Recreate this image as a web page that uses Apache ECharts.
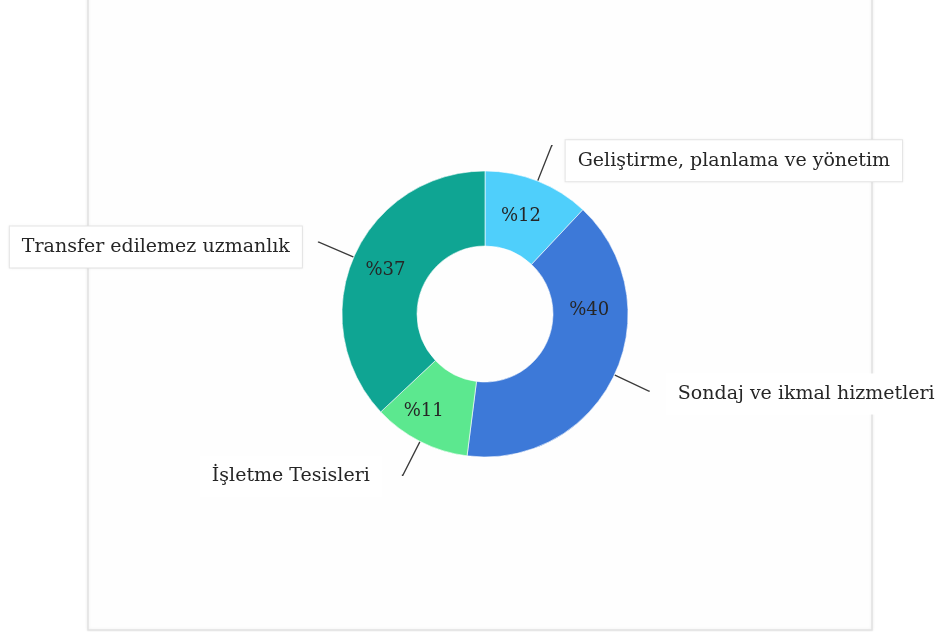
<!DOCTYPE html>
<html>
<head>
<meta charset="utf-8">
<script src="https://cdn.jsdelivr.net/npm/echarts@6/dist/echarts.min.js"></script>
<style>
  html, body { margin: 0; padding: 0; background: #ffffff; }
  #chart { width: 947px; height: 632px; }
</style>
</head>
<body>
<div id="chart"></div>
<script>
// Segment names, shares (%) and colours, clockwise from 12 o'clock
const categories = [
  'Geliştirme, planlama ve yönetim',
  'Sondaj ve ikmal hizmetleri',
  'İşletme Tesisleri',
  'Transfer edilemez uzmanlık'
];
const shares = [12, 40, 11, 37];
const colors = ['#4fcffb', '#3d79d8', '#5ce88f', '#0fa593'];
// Segments whose outer label sits in a bordered box
const boxedLabels = [true, false, false, true];

const serif = "'DejaVu Serif', 'Liberation Serif', serif";
const textColor = '#262626';

const chart = echarts.init(document.getElementById('chart'), null, { renderer: 'canvas' });

const outerData = categories.map((name, i) => ({
  name,
  value: shares[i],
  itemStyle: { color: colors[i] },
  label: boxedLabels[i]
    ? { borderColor: '#e6e6e6', borderWidth: 1, shadowColor: 'rgba(0,0,0,0.05)', shadowBlur: 3 }
    : {}
}));

const innerData = categories.map((name, i) => ({
  name,
  value: shares[i],
  itemStyle: { color: colors[i] }
}));

// small nudges of the label boxes relative to their leader lines
const outerNudge = [{ dx: 3, dy: 15 }, { dx: 6, dy: 3 }, { dx: -10, dy: 1 }, { dx: -6, dy: 5 }];
const innerNudge = [{ dx: -4, dy: 3 }, { dx: 6, dy: -50 }, { dx: -12, dy: 1 }, { dy: -1 }];

chart.setOption({
  backgroundColor: '#ffffff',
  animation: false,
  graphic: [{
    type: 'rect',
    shape: { x: 88, y: -4, width: 784, height: 634 },
    style: { fill: '#fefefe', stroke: '#e2e2e2', lineWidth: 1.5, shadowColor: 'rgba(0,0,0,0.08)', shadowBlur: 3 },
    z: -10,
    silent: true
  }],
  series: [
    {
      // ring with outside category labels
      type: 'pie',
      center: [485, 314],
      radius: [68, 143],
      startAngle: 90,
      clockwise: true,
      avoidLabelOverlap: false,
      itemStyle: { borderColor: 'rgba(255,255,255,0.6)', borderWidth: 1 },
      label: {
        show: true,
        position: 'outside',
        formatter: '{b}',
        fontFamily: serif,
        fontSize: 19,
        color: textColor,
        backgroundColor: '#ffffff',
        padding: [11, 12, 11, 12],
        distanceToLabelLine: 10
      },
      labelLine: {
        show: true,
        length: 38,
        length2: 1,
        smooth: false,
        lineStyle: { color: '#3a3a3a', width: 1.3 }
      },
      labelLayout: p => outerNudge[p.dataIndex],
      emphasis: { disabled: true },
      data: outerData
    },
    {
      // percentage labels inside each segment
      type: 'pie',
      center: [485, 314],
      radius: [68, 143],
      startAngle: 90,
      clockwise: true,
      silent: true,
      itemStyle: { borderColor: 'rgba(255,255,255,0.6)', borderWidth: 1 },
      label: {
        show: true,
        position: 'inside',
        formatter: p => '%' + p.value,
        fontFamily: serif,
        fontSize: 18,
        color: textColor
      },
      labelLine: { show: false },
      labelLayout: p => innerNudge[p.dataIndex],
      emphasis: { disabled: true },
      data: innerData
    }
  ]
});
</script>
</body>
</html>
